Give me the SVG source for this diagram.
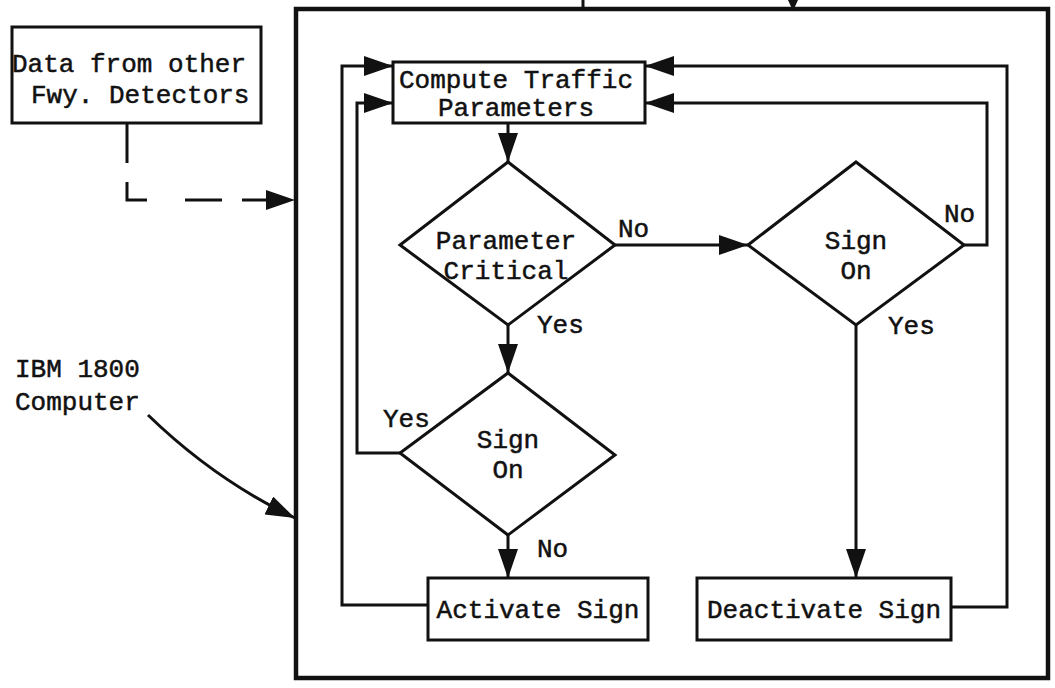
<svg xmlns="http://www.w3.org/2000/svg" width="1055" height="688" viewBox="0 0 1055 688">
  <style>
    .box { fill: none; stroke: #111; stroke-width: 3; }
    .frame { fill: none; stroke: #111; stroke-width: 4.5; }
    .line { fill: none; stroke: #111; stroke-width: 3; }
    .dash { fill: none; stroke: #111; stroke-width: 3; stroke-dasharray: 38 19; }
    .head { fill: #111; stroke: none; }
    text { font-family: "Liberation Mono", "Courier New", monospace; font-size: 26px; fill: #111; stroke: #111; stroke-width: 0.5; }
    .c { text-anchor: middle; }
  </style>
  <defs>
    <marker id="arr" markerUnits="userSpaceOnUse" markerWidth="32" markerHeight="22" refX="29" refY="10" orient="auto">
      <path d="M0,0 L29,10 L0,20 Z" class="head"/>
    </marker>
  </defs>
  <rect width="1055" height="688" fill="#fff"/>

  <!-- computer frame -->
  <g id="computer">
    <rect class="frame" x="296" y="9" width="752" height="669"/>
    <line class="line" x1="583" y1="0" x2="583" y2="9"/>
    <path class="head" d="M788,0 L798,0 L793,11 Z"/>
  </g>

  <g id="data-source">
    <rect class="box" x="12" y="27" width="249" height="96"/>
    <text x="12" y="72">Data from other</text>
    <text x="31" y="103">Fwy. Detectors</text>
  </g>

  <g id="ibm-label">
    <text x="15" y="377">IBM 1800</text>
    <text x="15" y="410">Computer</text>
  </g>

  <g id="compute">
    <rect class="box" x="393" y="62" width="252" height="61"/>
    <text class="c" x="516" y="88">Compute Traffic</text>
    <text class="c" x="516" y="116">Parameters</text>
  </g>

  <g id="param-critical">
    <polygon class="box" points="508,162 615,245 508,325 400,245"/>
    <text class="c" x="506" y="249">Parameter</text>
    <text class="c" x="506" y="279">Critical</text>
  </g>

  <g id="sign-on-right">
    <polygon class="box" points="856,162 964,245 856,325 748,245"/>
    <text class="c" x="856" y="249">Sign</text>
    <text class="c" x="856" y="279">On</text>
  </g>

  <g id="sign-on-left">
    <polygon class="box" points="508,373 615,455 508,535 400,453"/>
    <text class="c" x="508" y="448">Sign</text>
    <text class="c" x="508" y="478">On</text>
  </g>

  <g id="activate">
    <rect class="box" x="428" y="578" width="220" height="62"/>
    <text class="c" x="538" y="618">Activate Sign</text>
  </g>

  <g id="deactivate">
    <rect class="box" x="697" y="578" width="254" height="62"/>
    <text class="c" x="824" y="618">Deactivate Sign</text>
  </g>

  <g id="connectors">
    <!-- external inputs -->
    <line class="line" x1="127" y1="123" x2="127" y2="163"/>
    <path class="dash" d="M127,182 L127,200 L166,200 M185,200 L222,200 M242,200 L295,200" marker-end="url(#arr)"/>
    <path class="line" d="M148,415 Q215,480 295,518" marker-end="url(#arr)"/>

    <!-- main flow -->
    <line class="line" x1="508" y1="123" x2="508" y2="162" marker-end="url(#arr)"/>
    <line class="line" x1="615" y1="245" x2="748" y2="245" marker-end="url(#arr)"/>
    <line class="line" x1="508" y1="325" x2="508" y2="373" marker-end="url(#arr)"/>
    <line class="line" x1="508" y1="535" x2="508" y2="578" marker-end="url(#arr)"/>
    <line class="line" x1="856" y1="325" x2="856" y2="578" marker-end="url(#arr)"/>

    <!-- return loops -->
    <path class="line" d="M428,605 L342,605 L342,66 L393,66" marker-end="url(#arr)"/>
    <path class="line" d="M400,453 L357,453 L357,103 L393,103" marker-end="url(#arr)"/>
    <path class="line" d="M951,607 L1007,607 L1007,66 L645,66" marker-end="url(#arr)"/>
    <path class="line" d="M964,245 L987,245 L987,103 L645,103" marker-end="url(#arr)"/>

    <!-- branch labels -->
    <text x="618" y="237">No</text>
    <text x="537" y="333">Yes</text>
    <text x="383" y="427">Yes</text>
    <text x="537" y="557">No</text>
    <text x="944" y="222">No</text>
    <text x="888" y="334">Yes</text>
  </g>
</svg>
